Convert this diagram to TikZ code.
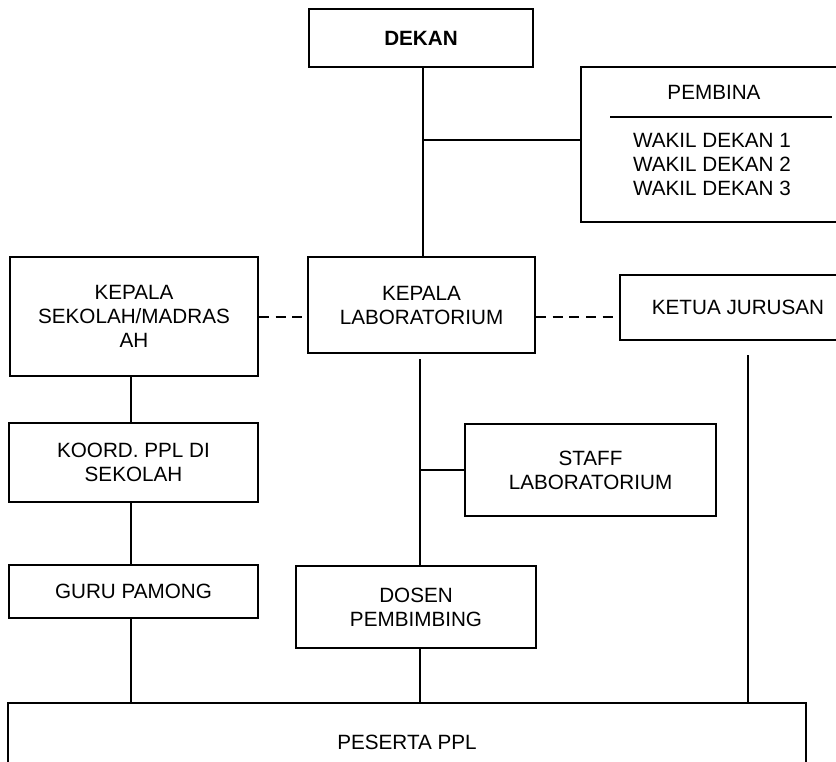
\documentclass[tikz,border=0pt]{standalone}
\usepackage{fontspec}
\setmainfont{Liberation Sans}
\begin{document}
\begin{tikzpicture}[x=0.75pt,y=-0.75pt,
  box/.style={draw=black,line width=1.5pt,rectangle,inner sep=0pt,align=center,
    font=\fontsize{15.5}{18}\selectfont},
  txt/.style={inner sep=0pt,align=center,font=\fontsize{15.5}{18}\selectfont},
  link/.style={draw=black,line width=1.5pt},
  dlink/.style={draw=black,line width=1.5pt,dash pattern=on 7.5pt off 5pt}]
\useasboundingbox (0,0) rectangle (836,761);
\fill[white] (0,0) rectangle (836,761);
\clip (0,0) rectangle (836,761);
% boxes
\node[box,minimum width=168pt,minimum height=43.5pt] (dekan) at (421,38) {\textbf{DEKAN}};
\node[box,minimum width=201.75pt,minimum height=116.25pt] (pembina) at (715.5,144.5) {};
\node[txt] (pembinatitle) at (714,92) {PEMBINA};
\node[txt] (wakil) at (712,164) {WAKIL DEKAN 1\\WAKIL DEKAN 2\\WAKIL DEKAN 3};
\coordinate (ruleL) at (610,117);
\coordinate (ruleR) at (832,117);
\draw[line width=1.1pt] (ruleL) -- (ruleR);
\node[box,minimum width=186pt,minimum height=89.25pt] (kepsek) at (134,316.5) {KEPALA\\SEKOLAH/MADRAS\\AH};
\node[box,minimum width=170.25pt,minimum height=72pt] (kalab) at (421.5,305) {KEPALA\\LABORATORIUM};
\node[box,minimum width=177pt,minimum height=48.75pt] (ketua) at (738,307.5) {KETUA JURUSAN};
\node[box,minimum width=186.75pt,minimum height=59.25pt] (koord) at (133.5,462.5) {KOORD. PPL DI\\SEKOLAH};
\node[box,minimum width=186.75pt,minimum height=39.75pt] (guru) at (133.5,591.5) {GURU PAMONG};
\node[box,minimum width=188.25pt,minimum height=69pt] (staff) at (590.5,470) {STAFF\\LABORATORIUM};
\node[box,minimum width=180pt,minimum height=61.5pt] (dosen) at (416,607) {DOSEN\\PEMBIMBING};
\node[box,minimum width=598.5pt,minimum height=58.5pt] (peserta) at (407,742) {PESERTA PPL};
% helper coordinates
\coordinate (j1) at (423,140);
\coordinate (dashy) at (0,317);
\coordinate (lx) at (131,0);
\coordinate (mstart) at (420,359);
\coordinate (rstart) at (748,355);
% connectors
\draw[link] (j1 |- dekan.south) -- (j1 |- kalab.north);
\draw[link] (j1) -- (j1 -| pembina.west);
\draw[dlink] (kepsek.east |- dashy) -- (kalab.west |- dashy);
\draw[dlink] (kalab.east |- dashy) -- (ketua.west |- dashy);
\draw[link] (lx |- kepsek.south) -- (lx |- koord.north);
\draw[link] (lx |- koord.south) -- (lx |- guru.north);
\draw[link] (lx |- guru.south) -- (lx |- peserta.north);
\draw[link] (mstart) -- (mstart |- dosen.north);
\draw[link] (mstart |- staff.west) -- (staff.west);
\draw[link] (mstart |- dosen.south) -- (mstart |- peserta.north);
\draw[link] (rstart) -- (rstart |- peserta.north);
\end{tikzpicture}
\end{document}
